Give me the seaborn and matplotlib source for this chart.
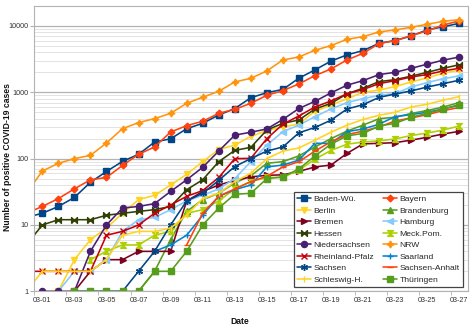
import numpy as np
import pandas as pd
import matplotlib
matplotlib.use("Agg")
import matplotlib.pyplot as plt
from matplotlib.ticker import FixedLocator, FuncFormatter, LogLocator, NullFormatter
import seaborn as sns

# ---------------- data ----------------
dates = pd.date_range("2020-02-29", "2020-03-27", freq="D")
N = None

states = ["Baden-Wü.", "Bayern", "Berlin", "Brandenburg", "Bremen", "Hamburg",
          "Hessen", "Meck.Pom.", "Niedersachsen", "NRW", "Rheinland-Pfalz",
          "Saarland", "Sachsen", "Sachsen-Anhalt", "Schleswig-H.", "Thüringen"]

baden_wue = [13, 15, 19, 26, 44, 64, 91, 116, 178, 199, 282, 341, 454, 569, 827, 988,
             1105, 1632, 2177, 2950, 3668, 4250, 5480, 6030, 7060, 8720, 9730, 10960]
bayern = [15, 19, 25, 35, 48, 52, 79, 116, 150, 252, 314, 366, 482, 554, 682, 901,
          1059, 1336, 1783, 2248, 3070, 3870, 5420, 6010, 7150, 8410, 10360, 11890]
berlin = [N, N, 1, 3, 6, 9, 15, 24, 28, 40, 58, 90, 137, 160, 216, 265,
          300, 332, 520, 640, 800, 1000, 1080, 1220, 1430, 1650, 1940, 2160]
brandenburg = [N, N, N, N, N, N, N, 1, 2, 6, 16, 24, 30, 43, 55, 85,
               90, 110, 150, 200, 260, 320, 400, 420, 480, 530, 600, 700]
bremen = [N, N, N, 1, 2, 3, 3, 4, 4, 4, 23, 32, 40, 47, 53, 56,
          57, 64, 75, 80, 120, 167, 170, 174, 190, 210, 235, 258]
hamburg = [N, N, 1, 2, 2, 3, 8, 12, 13, 17, 23, 28, 35, 50, 90, 160,
           255, 320, 430, 560, 700, 800, 900, 960, 1200, 1400, 1600, 1770]
hessen = [5, 10, 12, 12, 12, 14, 15, 16, 17, 19, 34, 48, 90, 133, 148, 270,
          340, 383, 560, 680, 950, 1150, 1450, 1550, 1750, 2000, 2300, 2600]
meck_pom = [N, N, N, N, 3, 4, 5, 5, 7, 8, 15, 17, 23, 35, 45, 52,
            52, 67, 98, 133, 165, 178, 185, 198, 223, 243, 270, 310]
niedersachsen = [N, 1, 1, 1, 4, 10, 18, 19, 21, 32, 48, 74, 130, 226, 250, 280,
                 390, 570, 730, 980, 1280, 1500, 1850, 2000, 2300, 2650, 3050, 3400]
nrw = [30, 65, 85, 100, 112, 172, 283, 349, 401, 482, 682, 841, 1035, 1432, 1625, 2098,
       3070, 3410, 4300, 5060, 6300, 6900, 8120, 8710, 9550, 10600, 11760, 12440]
rheinland_pfalz = [2, 2, 2, 2, 2, 7, 8, 10, 15, 20, 27, 33, 52, 100, 101, 200,
                   330, 440, 600, 740, 950, 1100, 1350, 1500, 1700, 1850, 2100, 2300]
saarland = [N, N, N, N, N, N, N, N, 4, 5, 7, 14, 27, 34, 40, 75,
            80, 95, 170, 170, 255, 280, 330, 430, 460, 500, 560, 640]
sachsen = [N, N, N, 1, 1, 1, 1, 2, 4, 10, 23, 30, 47, 76, 100, 130,
           150, 245, 295, 380, 560, 650, 840, 940, 1050, 1200, 1350, 1520]
sachsen_anhalt = [N, N, N, N, N, N, N, N, N, N, 5, 15, 27, 35, 45, 54,
                  75, 90, 130, 180, 230, 260, 300, 370, 410, 460, 530, 590]
schleswig_h = [1, 2, 2, 2, 2, 3, 7, 8, 8, 9, 14, 25, 30, 45, 60, 100,
               130, 145, 190, 250, 320, 390, 450, 500, 600, 660, 760, 860]
thueringen = [N, N, N, 1, 1, 1, 1, 1, 2, 2, 4, 10, 18, 29, 30, 50,
              53, 70, 110, 165, 220, 240, 310, 340, 420, 480, 560, 650]

series = [baden_wue, bayern, berlin, brandenburg, bremen, hamburg, hessen, meck_pom,
          niedersachsen, nrw, rheinland_pfalz, saarland, sachsen, sachsen_anhalt,
          schleswig_h, thueringen]

# ---------------- style ----------------
colors = ["#004586", "#ff420e", "#ffd320", "#579d1c", "#7e0021", "#83caff",
          "#314004", "#aecf00", "#4b1f6f", "#ff950e", "#c5000b", "#0084d1",
          "#004586", "#ff420e", "#ffd320", "#579d1c"]
bowtie = [(-1, -1), (-1, 1), (1, -1), (1, 1), (-1, -1)]
hourglass = [(-1, -1), (1, -1), (-1, 1), (1, 1), (-1, -1)]
markers = ["s", "D", "v", "^", ">", "<", bowtie, hourglass, "o", (4, 1, 0),
           "x", "+", (6, 2, 0), "_", "|", "s"]
msizes = [4.2, 3.4, 4.4, 4.4, 4.4, 4.4, 4.2, 4.2, 4.4, 5.0, 4.4, 5.0, 5.0, 5.0, 5.0, 4.2]

sns.set_style("white")
plt.rcParams["font.family"] = ["Liberation Sans", "DejaVu Sans"]

fig = plt.figure(figsize=(4.74, 3.32), dpi=100)
ax = fig.add_axes([0.0724, 0.1226, 0.9156, 0.8594])

handles = []
for name, vals, c, m, ms in zip(states, series, colors, markers, msizes):
    df = pd.DataFrame({"Date": dates, "Cases": pd.array(vals, dtype="Float64").astype(float)}).dropna()
    sns.lineplot(data=df, x="Date", y="Cases", color=c, marker=m, markersize=ms,
                 markeredgecolor=c, markeredgewidth=1.0, linewidth=1.15,
                 errorbar=None, ax=ax, legend=False)
    handles.append(ax.lines[-1])

ax.set_yscale("log")
ax.set_ylim(1, 20000)
ax.set_xlim(pd.Timestamp("2020-02-29 12:00"), pd.Timestamp("2020-03-27 13:30"))

# y axis
ax.yaxis.set_major_locator(FixedLocator([1, 10, 100, 1000, 10000]))
ax.yaxis.set_major_formatter(FuncFormatter(lambda v, p: f"{v:g}"))
ax.yaxis.set_minor_locator(LogLocator(base=10, subs=range(2, 10), numticks=20))
ax.yaxis.set_minor_formatter(NullFormatter())
ax.grid(False)
ax.yaxis.grid(True, which="major", color="#b3b3b3", linewidth=0.9)
ax.yaxis.grid(True, which="minor", color="#e3e3e3", linewidth=0.7)
ax.set_axisbelow(True)

# x axis
tick_dates = pd.date_range("2020-03-01", "2020-03-27", freq="2D")
ax.set_xticks(tick_dates)
ax.set_xticklabels([d.strftime("%m-%d") for d in tick_dates])
ax.set_xticks(tick_dates - pd.Timedelta(hours=12), minor=True)

ax.tick_params(axis="both", which="major", labelsize=5.2, colors="#333333")
ax.tick_params(axis="x", which="major", length=0, pad=4)
ax.tick_params(axis="x", which="minor", length=3, color="#b3b3b3", direction="out", bottom=True)
ax.tick_params(axis="y", which="major", length=3, color="#b3b3b3", direction="out", pad=1.5, left=True)
ax.tick_params(axis="y", which="minor", length=0)

for sp in ax.spines.values():
    sp.set_color("#b3b3b3")
    sp.set_linewidth(0.8)

ax.set_xlabel("Date", fontsize=6.2, fontweight="bold", color="#111111")
ax.set_ylabel("Number of positive COVID-19 cases", fontsize=6.2, fontweight="bold", color="#111111")
ax.xaxis.set_label_coords(0.474, -0.089)
ax.yaxis.set_label_coords(-0.051, 0.47)

order = list(range(0, 16, 2)) + list(range(1, 16, 2))
leg = ax.legend([handles[i] for i in order], [states[i] for i in order], ncol=2,
                loc="lower right", bbox_to_anchor=(0.987, 0.016), fontsize=6.1,
                frameon=True, fancybox=False, edgecolor="#444444", framealpha=1,
                handlelength=1.7, handletextpad=0.3, columnspacing=1.0,
                labelspacing=0.42, borderpad=0.35, borderaxespad=0)
leg.get_frame().set_linewidth(0.9)

fig.savefig("out.png", dpi=100, facecolor="white")
